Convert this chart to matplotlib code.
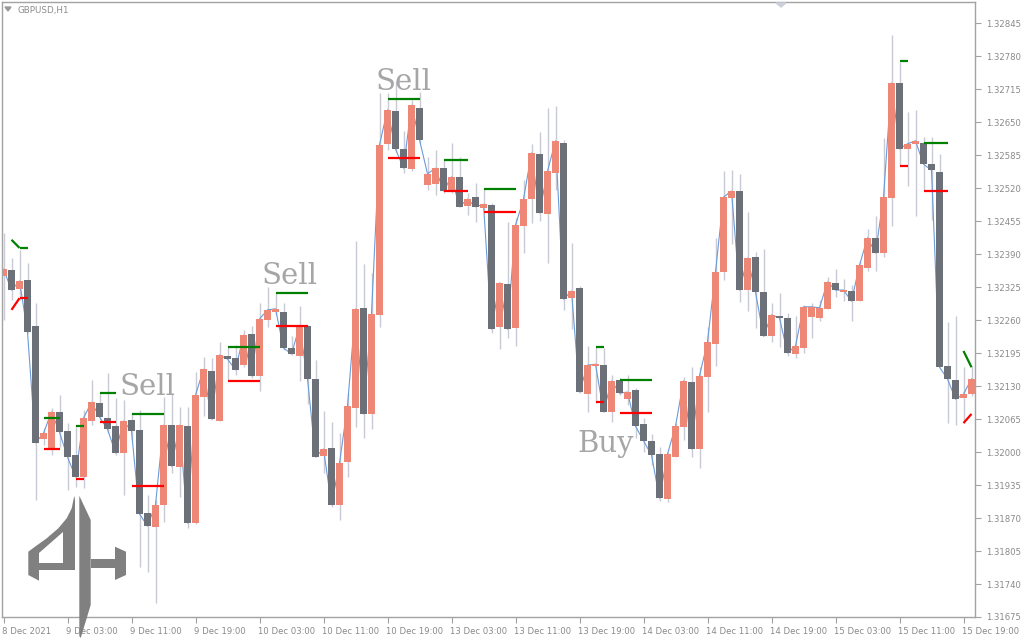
import matplotlib
matplotlib.use('Agg')
import matplotlib.pyplot as plt
from matplotlib.patches import Polygon
from matplotlib.transforms import ScaledTranslation
import numpy as np

# ---------------- data (GBPUSD H1) ----------------
opens = [
1.32347, 1.32358, 1.32321, 1.32339, 1.32248, 1.32026, 1.32006, 1.32079, 1.32041, 1.31994,
1.31951, 1.32061, 1.32097, 1.32067, 1.32051, 1.31998, 1.32063, 1.32043, 1.31880, 1.31852,
1.31896, 1.32053, 1.31970, 1.32051, 1.31860, 1.32108, 1.32160, 1.32061, 1.32189, 1.32185,
1.32171, 1.32232, 1.32150, 1.32260, 1.32276, 1.32276, 1.32205, 1.32189, 1.32248, 1.32144,
1.31992, 1.32008, 1.31896, 1.31980, 1.32087, 1.32284, 1.32075, 1.32270, 1.32607, 1.32672,
1.32597, 1.32557, 1.32678, 1.32526, 1.32528, 1.32559, 1.32514, 1.32542, 1.32485, 1.32502,
1.32481, 1.32487, 1.32246, 1.32331, 1.32244, 1.32445, 1.32498, 1.32587, 1.32469, 1.32550,
1.32609, 1.32303, 1.32323, 1.32114, 1.32169, 1.32171, 1.32079, 1.32142, 1.32104, 1.32122,
1.32055, 1.32022, 1.31996, 1.31907, 1.31990, 1.32049, 1.32138, 1.32006, 1.32148, 1.32213,
1.32355, 1.32500, 1.32514, 1.32319, 1.32384, 1.32315, 1.32228, 1.32268, 1.32264, 1.32193,
1.32205, 1.32266, 1.32264, 1.32282, 1.32333, 1.32315, 1.32317, 1.32297, 1.32362, 1.32422,
1.32392, 1.32500, 1.32727, 1.32597, 1.32607, 1.32609, 1.32567, 1.32552, 1.32169, 1.32142,
1.32106, 1.32114]

highs = [
1.32431, 1.32382, 1.32398, 1.32372, 1.32293, 1.32047, 1.32087, 1.32112, 1.32057, 1.32049,
1.32083, 1.32142, 1.32116, 1.32156, 1.32106, 1.32102, 1.32077, 1.32083, 1.31915, 1.31905,
1.32108, 1.32116, 1.32089, 1.32089, 1.32158, 1.32187, 1.32185, 1.32217, 1.32207, 1.32211,
1.32240, 1.32248, 1.32293, 1.32325, 1.32313, 1.32293, 1.32228, 1.32288, 1.32250, 1.32181,
1.32081, 1.32059, 1.32037, 1.32116, 1.32416, 1.32370, 1.32353, 1.32707, 1.32707, 1.32731,
1.32632, 1.32693, 1.32709, 1.32581, 1.32595, 1.32575, 1.32609, 1.32581, 1.32510, 1.32530,
1.32520, 1.32490, 1.32335, 1.32453, 1.32461, 1.32536, 1.32607, 1.32630, 1.32678, 1.32682,
1.32615, 1.32412, 1.32327, 1.32209, 1.32207, 1.32205, 1.32152, 1.32146, 1.32152, 1.32126,
1.32067, 1.32035, 1.32010, 1.32000, 1.32057, 1.32148, 1.32167, 1.32167, 1.32246, 1.32422,
1.32553, 1.32555, 1.32548, 1.32473, 1.32394, 1.32400, 1.32293, 1.32313, 1.32274, 1.32268,
1.32290, 1.32293, 1.32299, 1.32345, 1.32360, 1.32341, 1.32329, 1.32376, 1.32439, 1.32465,
1.32618, 1.32821, 1.32768, 1.32670, 1.32674, 1.32620, 1.32620, 1.32587, 1.32256, 1.32268,
1.32167, 1.32169]

lows = [
1.32260, 1.32299, 1.32299, 1.32234, 1.31905, 1.32014, 1.31994, 1.32010, 1.31925, 1.31931,
1.31929, 1.32053, 1.32063, 1.32037, 1.31994, 1.31915, 1.32024, 1.31773, 1.31764, 1.31703,
1.31862, 1.31959, 1.31911, 1.31850, 1.31858, 1.32071, 1.32063, 1.32061, 1.32142, 1.32152,
1.32167, 1.32146, 1.32120, 1.32246, 1.32270, 1.32201, 1.32191, 1.32140, 1.32095, 1.31990,
1.31959, 1.31892, 1.31866, 1.31951, 1.32049, 1.32028, 1.32045, 1.32246, 1.32595, 1.32591,
1.32550, 1.32553, 1.32609, 1.32516, 1.32506, 1.32510, 1.32510, 1.32483, 1.32467, 1.32453,
1.32477, 1.32234, 1.32203, 1.32225, 1.32209, 1.32392, 1.32451, 1.32455, 1.32372, 1.32516,
1.32280, 1.32242, 1.32116, 1.32079, 1.32097, 1.32079, 1.32059, 1.32112, 1.32093, 1.32028,
1.32000, 1.31974, 1.31903, 1.31902, 1.31990, 1.32024, 1.31990, 1.31968, 1.32079, 1.32169,
1.32339, 1.32410, 1.32295, 1.32278, 1.32244, 1.32228, 1.32217, 1.32207, 1.32189, 1.32185,
1.32195, 1.32225, 1.32258, 1.32282, 1.32305, 1.32297, 1.32258, 1.32297, 1.32357, 1.32357,
1.32384, 1.32445, 1.32563, 1.32524, 1.32465, 1.32516, 1.32457, 1.32167, 1.32057, 1.32053,
1.32057, 1.32110]

closes = [
1.32360, 1.32319, 1.32337, 1.32236, 1.32018, 1.32037, 1.32079, 1.32039, 1.31990, 1.31951,
1.32067, 1.32098, 1.32069, 1.32045, 1.31998, 1.32061, 1.32041, 1.31878, 1.31854, 1.31896,
1.32053, 1.31972, 1.32053, 1.31860, 1.32112, 1.32163, 1.32065, 1.32191, 1.32183, 1.32162,
1.32230, 1.32150, 1.32262, 1.32280, 1.32282, 1.32205, 1.32193, 1.32248, 1.32144, 1.31990,
1.32006, 1.31896, 1.31978, 1.32091, 1.32282, 1.32075, 1.32272, 1.32605, 1.32674, 1.32597,
1.32559, 1.32683, 1.32615, 1.32548, 1.32559, 1.32514, 1.32542, 1.32483, 1.32498, 1.32483,
1.32488, 1.32242, 1.32333, 1.32242, 1.32447, 1.32498, 1.32589, 1.32471, 1.32553, 1.32613,
1.32301, 1.32317, 1.32118, 1.32171, 1.32173, 1.32079, 1.32140, 1.32116, 1.32118, 1.32051,
1.32022, 1.31994, 1.31909, 1.31996, 1.32051, 1.32140, 1.32006, 1.32150, 1.32217, 1.32355,
1.32502, 1.32514, 1.32319, 1.32382, 1.32315, 1.32228, 1.32270, 1.32264, 1.32195, 1.32209,
1.32286, 1.32286, 1.32284, 1.32335, 1.32319, 1.32319, 1.32297, 1.32368, 1.32422, 1.32392,
1.32502, 1.32727, 1.32597, 1.32607, 1.32613, 1.32567, 1.32555, 1.32167, 1.32144, 1.32104,
1.32114, 1.32144]

# pattern levels: bar index start/end, green (upper) and red (lower) price at start/end
lvl_start = [1, 2, 5, 9, 12, 16, 28, 34, 48, 55, 60, 74, 77, 112, 115, 120]
lvl_end   = [2, 3, 7, 10, 14, 20, 32, 38, 52, 58, 64, 75, 81, 113, 118, 121]
green_a = [1.32418, 1.32402, 1.32067, 1.32051, 1.32116, 1.32075, 1.32207, 1.32313, 1.32695,
           1.32575, 1.32518, 1.32207, 1.32142, 1.32770, 1.32609, 1.32199]
green_b = [1.32402, 1.32402, 1.32067, 1.32051, 1.32116, 1.32075, 1.32207, 1.32313, 1.32695,
           1.32575, 1.32518, 1.32207, 1.32142, 1.32770, 1.32609, 1.32167]
red_a = [1.32280, 1.32303, 1.32006, 1.31947, 1.32059, 1.31933, 1.32140, 1.32248, 1.32579,
         1.32514, 1.32473, 1.32098, 1.32077, 1.32563, 1.32514, 1.32057]
red_b = [1.32303, 1.32303, 1.32006, 1.31947, 1.32059, 1.31933, 1.32140, 1.32248, 1.32579,
         1.32514, 1.32473, 1.32098, 1.32077, 1.32563, 1.32514, 1.32075]

signal_texts = ['Sell', 'Sell', 'Sell', 'Buy']

x_tick_bars = [0, 8, 16, 24, 32, 40, 48, 56, 64, 72, 80, 88, 96, 104, 112, 120]
x_tick_labels = ['8 Dec 2021', '9 Dec 03:00', '9 Dec 11:00', '9 Dec 19:00', '10 Dec 03:00',
                 '10 Dec 11:00', '10 Dec 19:00', '13 Dec 03:00', '13 Dec 11:00', '13 Dec 19:00',
                 '14 Dec 03:00', '14 Dec 11:00', '14 Dec 19:00', '15 Dec 03:00', '15 Dec 11:00',
                 '15 Dec 19:00']
y_ticks = [1.31675, 1.31740, 1.31805, 1.31870, 1.31935, 1.32000, 1.32065, 1.32130, 1.32195,
           1.32260, 1.32325, 1.32390, 1.32455, 1.32520, 1.32585, 1.32650, 1.32715, 1.32780, 1.32845]

# ---------------- figure ----------------
W, H = 1024, 640
fig = plt.figure(figsize=(W / 100, H / 100), dpi=100, facecolor='white')
ax = fig.add_axes([2 / W, 23 / H, 973 / W, 615 / H])
ax.set_facecolor('white')

BULL = '#EF8777'
BEAR = '#6B7079'
WICK = '#C8CAD6'
LINE = '#6A9BDA'
FRAME = '#A3A3A3'
TXT = '#8A8A8A'

o = np.array(opens); h = np.array(highs); l = np.array(lows); c = np.array(closes)
x = np.arange(len(o))
bull = c >= o

ax.vlines(x, l, h, color=WICK, linewidth=1.0, zorder=1)
ax.plot(x, c, color=LINE, linewidth=0.8, zorder=1.5)
bottoms = np.minimum(o, c)
heights = np.maximum(np.abs(c - o), 0.000018)
ax.bar(x, heights, bottom=bottoms, width=0.86, color=np.where(bull, BULL, BEAR),
       linewidth=0, zorder=2)

for s, e, g0, g1, r0, r1 in zip(lvl_start, lvl_end, green_a, green_b, red_a, red_b):
    ax.plot([s, e], [g0, g1], color='#008000', linewidth=1.6, zorder=3, solid_capstyle='butt')
    ax.plot([s, e], [r0, r1], color='#FF0000', linewidth=1.6, zorder=3, solid_capstyle='butt')

ax.set_xlim(-0.1875, 121.4375)
ax.set_ylim(1.31675, 1.328864)

ax.yaxis.tick_right()
ax.set_yticks(y_ticks)
ax.set_yticklabels([f'{v:.5f}' for v in y_ticks])
ax.set_xticks(x_tick_bars)
ax.set_xticklabels(x_tick_labels)
ax.tick_params(axis='both', direction='out', length=4, width=0.8, color=FRAME,
               labelcolor=TXT, labelsize=6.1)
ax.tick_params(axis='y', pad=4)
ax.tick_params(axis='x', pad=3)
off = ScaledTranslation(-0.02, 0, fig.dpi_scale_trans)
for lab in ax.get_xticklabels():
    lab.set_ha('left')
    lab.set_transform(lab.get_transform() + off)
for sp in ax.spines.values():
    sp.set_color(FRAME)
    sp.set_linewidth(1.0)


def F(pts):
    return [(px / W, 1 - py / H) for px, py in pts]


# signal captions
sig_pos = [(147, 395), (289, 284), (404, 90), (606, 452)]
for t, (px, py) in zip(signal_texts, sig_pos):
    fig.text(px / W, 1 - py / H, t, fontsize=21, family='DejaVu Serif', color='#A6A6A6',
             ha='center', va='baseline')

# header
fig.text(18 / W, 1 - 10 / H, 'GBPUSD,H1', fontsize=6.3, color='#8C8C8C', va='center')
fig.add_artist(Polygon(F([(5, 7), (11, 7), (8, 11)]), closed=True, color='#9A9A9A',
                       transform=fig.transFigure))
fig.add_artist(Polygon(F([(776, 3), (786, 3), (781, 7)]), closed=True, color='#CDD0DA',
                       transform=fig.transFigure))

# logo
LOGO = '#808080'
shapes = [
    [(74.3, 495.7), (71.7, 508.3), (66.7, 518.3), (58.3, 528.3), (46.7, 538.3), (35, 546.7),
     (28.3, 551.7), (28.3, 575), (39, 580.7), (39, 570), (75, 570), (75, 500)],
    [(79.3, 495.7), (90.7, 520), (90.7, 605), (80.7, 638), (79.3, 636)],
    [(90.5, 559), (115, 559), (115, 568.3), (90.5, 568.3)],
    [(115, 546.7), (126, 551.7), (126, 575), (115, 580)],
]
for sh in shapes:
    fig.add_artist(Polygon(F(sh), closed=True, color=LOGO, linewidth=0,
                           transform=fig.transFigure, zorder=5))
fig.add_artist(Polygon(F([(63.3, 532), (63.3, 563.3), (39, 563.3), (39, 553)]),
                       closed=True, color='white', linewidth=0,
                       transform=fig.transFigure, zorder=6))

fig.savefig('out.png', dpi=100, facecolor='white')
